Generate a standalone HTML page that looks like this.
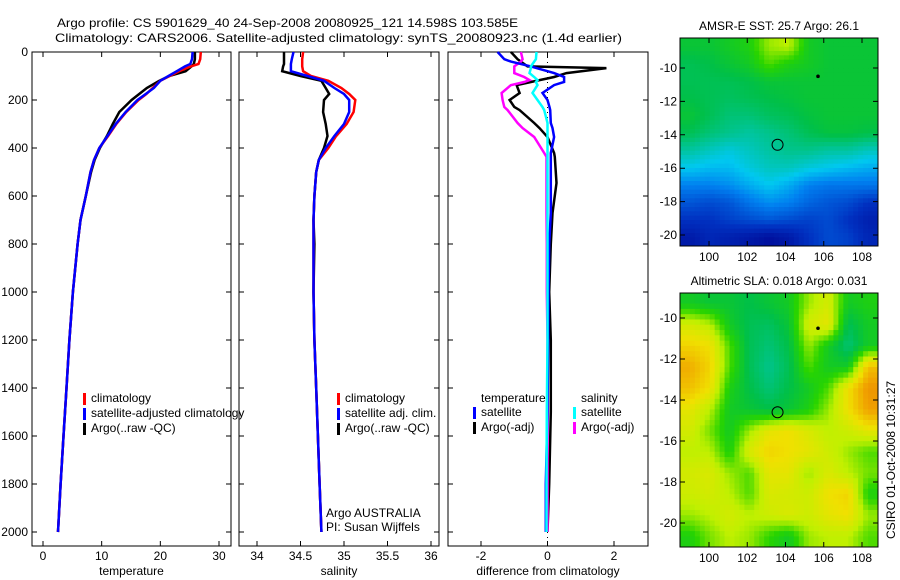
<!DOCTYPE html>
<html><head><meta charset="utf-8"><style>
html,body{margin:0;padding:0;background:#fff;}
svg{display:block;font-family:"Liberation Sans",sans-serif;}
text{font-size:12px;fill:#000;}
</style></head><body>
<svg id="fig" width="900" height="580" viewBox="0 0 900 580">
<text x="57" y="27" font-size="13.5" textLength="461" lengthAdjust="spacingAndGlyphs">Argo profile: CS 5901629_40 24-Sep-2008 20080925_121 14.598S 103.585E</text>
<text x="55" y="42" font-size="14" textLength="567" lengthAdjust="spacingAndGlyphs">Climatology: CARS2006. Satellite-adjusted climatology: synTS_20080923.nc (1.4d earlier)</text>
<g id="m1"></g>
<g id="m2"></g>
<g id="g1"></g>
<g id="g2"></g>
<g id="g3"></g>
<text transform="translate(895,460) rotate(-90)" text-anchor="middle">CSIRO 01-Oct-2008 10:31:27</text>
</svg>
<script>
// ---- profile data ----
const pres = [0,30,50,60,80,100,120,150,175,200,250,300,350,400,450,500,600,700,800,1000,1200,1400,1600,1800,2000];
const tempClim = [26.9,26.8,26.5,25.2,23.2,21.6,20.0,18.7,17.6,16.3,14.2,12.5,11.1,9.6,8.7,8.1,7.3,6.4,5.9,5.1,4.5,4.0,3.5,3.0,2.55];
const tempSat  = [25.5,25.4,25.1,24.2,22.8,21.4,20.0,18.9,17.5,16.1,14.1,12.4,11.0,9.6,8.7,8.1,7.3,6.4,5.9,5.1,4.5,4.0,3.5,3.0,2.55];
const tempArgo = [25.9,25.9,25.7,25.3,24.3,21.5,19.8,17.7,16.4,15.1,13.0,11.9,10.9,9.7,8.8,8.2,7.3,6.4,5.9,5.1,4.5,4.0,3.5,3.0,2.55];
const salClim = [34.53,34.52,34.52,34.52,34.53,34.62,34.82,34.97,35.06,35.13,35.11,35.03,34.91,34.82,34.71,34.68,34.66,34.65,34.65,34.65,34.66,34.68,34.70,34.72,34.74];
const salSat  = [34.42,34.40,34.39,34.39,34.39,34.58,34.77,34.89,35.00,35.06,35.06,35.00,34.89,34.79,34.71,34.68,34.66,34.65,34.65,34.65,34.66,34.68,34.70,34.72,34.74];
const salArgo = [34.31,34.31,34.31,34.30,34.29,34.50,34.74,34.79,34.83,34.77,34.76,34.79,34.81,34.77,34.71,34.68,34.66,34.65,34.66,34.65,34.66,34.68,34.70,34.72,34.74];
const diffPres = [0,30,40,60,67,88,104,117,125,138,171,200,229,242,296,317,354,421,437,546,671,800,1000,1200,1500,1800,2000];
const dTempSat  = [-1.5,-1.3,-1.1,-0.5,-0.33,0.2,0.5,0.5,0.5,0.2,-0.15,0.0,0.06,0.08,0.1,0.15,0.2,0.1,0.1,0.1,0.1,0.05,0.03,0.02,0.0,-0.05,-0.05];
const dTempArgo = [-1.1,-0.9,-0.8,-0.6,1.77,0.57,0.2,-0.24,-0.5,-0.93,-0.84,-1.14,-1.0,-0.84,-0.4,-0.24,0.0,0.2,0.22,0.27,0.15,0.1,0.05,0.1,0.1,0.05,0.0];
const dSalSat   = [-0.33,-0.35,-0.4,-0.5,-0.5,-0.54,-0.4,-0.3,-0.35,-0.3,-0.45,-0.3,-0.15,-0.1,0.0,0.0,0.0,0.0,0.0,0.0,0.0,0.0,0.0,0.0,-0.02,-0.03,-0.03];
const dSalArgo  = [-0.8,-0.75,-0.8,-1.0,-1.0,-1.0,-0.7,-0.54,-0.7,-1.1,-1.38,-1.35,-1.3,-1.2,-0.9,-0.75,-0.4,-0.1,-0.03,-0.03,-0.03,-0.02,-0.02,0.0,0.0,0.0,0.0];
const tempTicks = [0,10,20,30];
const salTicks = [34,34.5,35,35.5,36];
const diffTicks = [-2,0,2];
const presTicks = [0,200,400,600,800,1000,1200,1400,1600,1800,2000];
// ---- map data (rows north->south, cols west->east), colour index 0..1 ----
const sstGrid = [
[0.58,0.58,0.6,0.62,0.7,0.72,0.6,0.58,0.58,0.58],
[0.55,0.56,0.58,0.6,0.66,0.62,0.6,0.58,0.58,0.58],
[0.55,0.55,0.55,0.56,0.58,0.58,0.58,0.58,0.58,0.58],
[0.56,0.55,0.54,0.55,0.56,0.57,0.58,0.58,0.58,0.58],
[0.58,0.55,0.52,0.52,0.54,0.55,0.57,0.58,0.58,0.58],
[0.55,0.52,0.5,0.48,0.5,0.52,0.55,0.57,0.57,0.56],
[0.48,0.45,0.42,0.45,0.48,0.5,0.5,0.48,0.48,0.45],
[0.4,0.38,0.38,0.42,0.45,0.45,0.42,0.4,0.38,0.36],
[0.3,0.3,0.32,0.36,0.4,0.36,0.3,0.28,0.28,0.28],
[0.22,0.2,0.22,0.28,0.32,0.3,0.25,0.22,0.2,0.15],
[0.15,0.15,0.18,0.2,0.22,0.2,0.18,0.2,0.15,0.1],
[0.08,0.12,0.1,0.08,0.05,0.08,0.15,0.2,0.18,0.12]];
const slaGrid = [
[0.6,0.58,0.58,0.56,0.58,0.6,0.7,0.75,0.6,0.62],
[0.75,0.72,0.6,0.55,0.54,0.58,0.75,0.78,0.55,0.6],
[0.82,0.8,0.66,0.55,0.52,0.56,0.7,0.6,0.52,0.6],
[0.88,0.82,0.66,0.55,0.5,0.55,0.66,0.6,0.6,0.85],
[0.85,0.8,0.62,0.56,0.52,0.56,0.6,0.66,0.8,0.92],
[0.78,0.72,0.6,0.58,0.56,0.58,0.62,0.7,0.8,0.9],
[0.75,0.68,0.6,0.7,0.78,0.8,0.76,0.72,0.74,0.78],
[0.72,0.72,0.62,0.76,0.82,0.8,0.78,0.74,0.7,0.66],
[0.75,0.76,0.7,0.66,0.78,0.78,0.7,0.76,0.72,0.68],
[0.74,0.75,0.72,0.66,0.76,0.75,0.74,0.8,0.82,0.62],
[0.7,0.72,0.75,0.72,0.74,0.76,0.74,0.78,0.8,0.7],
[0.62,0.68,0.72,0.7,0.64,0.6,0.7,0.72,0.72,0.66]];
const lonTicks = [100,102,104,106,108];
const latTicks = [-10,-12,-14,-16,-18,-20];
const argoPos = [103.585,-14.598];
const otherPos = [105.7,-10.5];

const NS='http://www.w3.org/2000/svg';
function mk(parent,tag,attrs){const e=document.createElementNS(NS,tag);for(const k in attrs)e.setAttribute(k,attrs[k]);parent.appendChild(e);return e;}
const Y0=52,Y1=546,PMAX=(Y1-Y0)/0.24;
function yP(p){return Y0+p*(Y1-Y0)/PMAX;}
function xScale(v,pxA,vA,pxB,vB){return pxA+(v-vA)*(pxB-pxA)/(vB-vA);}

function panel(g,x0,x1,xf,ticks,fmt,label,leftLabels){
  const box=mk(g,'rect',{x:x0,y:Y0,width:x1-x0,height:Y1-Y0,fill:'none',stroke:'#000','stroke-width':1});
  
  
  presTicks.forEach(p=>{const y=yP(p);
    const t=mk(g,'path',{d:`M${x0} ${y}h5M${x1} ${y}h-5`,stroke:'#000'});
    
    
    if(leftLabels){const l=mk(g,'text',{x:x0-4,y:y+4,'text-anchor':'end'});l.textContent=p;
      
      }
  });
  ticks.forEach((v,i)=>{const x=xf(v);
    const t=mk(g,'path',{d:`M${x} ${Y0}v5M${x} ${Y1}v-5`,stroke:'#000'});
    
    
    const l=mk(g,'text',{x:x,y:560,'text-anchor':'middle'});l.textContent=fmt[i];
    
    
  });
  const xl=mk(g,'text',{x:(x0+x1)/2,y:575,'text-anchor':'middle'});xl.textContent=label;
  
  
}
function series(g,vals,ps,xf,color,name,w){
  const d=vals.map((v,i)=>(i?'L':'M')+xf(v).toFixed(1)+' '+yP(ps[i]).toFixed(1)).join('');
  const e=mk(g,'path',{d:d,fill:'none',stroke:color,'stroke-width':w||2.5});
  
  
}
function legend(g,x,y,items){
  items.forEach((it,i)=>{
    const m=mk(g,'rect',{x:x,y:y+i*15-9,width:3,height:12,fill:it[1]});
    
    
    const t=mk(g,'text',{x:x+8,y:y+i*15});t.textContent=it[0];
    
    
  });
}
// panel 1
const g1=document.getElementById('g1');
const fx1=v=>xScale(v,43,0,219,30);
panel(g1,32,231,fx1,tempTicks,['0','10','20','30'],'temperature',true);
series(g1,tempArgo,pres,fx1,'#000','argo-temperature-line');
series(g1,tempClim,pres,fx1,'#f00','climatology-temperature-line');
series(g1,tempSat,pres,fx1,'#00f','satellite-temperature-line');
legend(g1,83,402,[['climatology','#f00'],['satellite-adjusted climatology','#00f'],['Argo(..raw -QC)','#000']]);
// panel 2
const g2=document.getElementById('g2');
const fx2=v=>xScale(v,257,34,431,36);
panel(g2,239,439,fx2,salTicks,['34','34.5','35','35.5','36'],'salinity',false);
series(g2,salArgo,pres,fx2,'#000','argo-salinity-line');
series(g2,salClim,pres,fx2,'#f00','climatology-salinity-line');
series(g2,salSat,pres,fx2,'#00f','satellite-salinity-line');
legend(g2,337,402,[['climatology','#f00'],['satellite adj. clim.','#00f'],['Argo(..raw -QC)','#000']]);
const a1=mk(g2,'text',{x:326,y:517});a1.textContent='Argo AUSTRALIA';


const a2=mk(g2,'text',{x:326,y:531});a2.textContent='PI: Susan Wijffels';


// panel 3
const g3=document.getElementById('g3');
const fx3=v=>xScale(v,481,-2,614,2);
panel(g3,448,648,fx3,diffTicks,['-2','0','2'],'difference from climatology',false);
const zl=mk(g3,'line',{x1:fx3(0),y1:Y0,x2:fx3(0),y2:Y1,stroke:'#000','stroke-dasharray':'1 4'});


series(g3,dTempArgo,diffPres,fx3,'#000','argo-temperature-diff-line');
series(g3,dSalArgo,diffPres,fx3,'#f0f','argo-salinity-diff-line');
series(g3,dTempSat,diffPres,fx3,'#00f','satellite-temperature-diff-line');
series(g3,dSalSat,diffPres,fx3,'#0ff','satellite-salinity-diff-line');
const lt=mk(g3,'text',{x:481,y:402});lt.textContent='temperature';


const ls=mk(g3,'text',{x:581,y:402});ls.textContent='salinity';


legend(g3,473,416,[['satellite','#00f'],['Argo(-adj)','#000']]);
legend(g3,573,416,[['satellite','#0ff'],['Argo(-adj)','#f0f']]);

// maps
const stops=[[0,[0,0,140]],[0.15,[0,48,192]],[0.3,[0,128,240]],[0.4,[0,200,240]],[0.5,[0,196,140]],[0.56,[0,192,72]],[0.64,[40,212,0]],[0.72,[192,240,0]],[0.8,[240,224,0]],[0.9,[240,160,0]],[1,[224,112,0]]];
function cmap(v){for(let i=1;i<stops.length;i++){if(v<=stops[i][0]){const a=stops[i-1],b=stops[i],t=(v-a[0])/(b[0]-a[0]);
  return 'rgb('+a[1].map((c,k)=>Math.round(c+t*(b[1][k]-c))).join(',')+')';}}return 'rgb(224,112,0)';}
function sample(grid,fr,fc){ // bilinear lookup at fractional cell-centre coords
  const nr=grid.length,nc=grid[0].length;
  const r=Math.min(Math.max(fr,0),nr-1),c=Math.min(Math.max(fc,0),nc-1);
  const r0=Math.floor(r),c0=Math.floor(c),r1=Math.min(r0+1,nr-1),c1=Math.min(c0+1,nc-1);
  const tr=r-r0,tc=c-c0;
  return (grid[r0][c0]*(1-tc)+grid[r0][c1]*tc)*(1-tr)+(grid[r1][c0]*(1-tc)+grid[r1][c1]*tc)*tr;
}
function map(id,grid,bx0,bx1,by0,by1,latAtA,yA,pxPerDeg,title){
  const g=document.getElementById(id);
  const fx=lon=>xScale(lon,709,100,862,108);
  const fy=lat=>yA+(latAtA-lat)*pxPerDeg;
  const nr=grid.length,nc=grid[0].length,S=4;
  const cw=(bx1-bx0)/(nc*S),ch=(by1-by0)/(nr*S);
  for(let r=0;r<nr*S;r++)for(let c=0;c<nc*S;c++){
    const v=sample(grid,(r+0.5)/S-0.5,(c+0.5)/S-0.5);
    const cell=mk(g,'rect',{x:(bx0+c*cw).toFixed(2),y:(by0+r*ch).toFixed(2),width:(cw+0.5).toFixed(2),height:(ch+0.5).toFixed(2),fill:cmap(v)});
    
    
  }
  const f=mk(g,'rect',{x:bx0,y:by0,width:bx1-bx0,height:by1-by0,fill:'none',stroke:'#000'});
  
  
  lonTicks.forEach(l=>{const x=fx(l);
    const t=mk(g,'path',{d:`M${x} ${by1}v-5M${x} ${by0}v5`,stroke:'#000'});
    
    
    const tl=mk(g,'text',{x:x,y:by1+15,'text-anchor':'middle'});tl.textContent=l;
    
    });
  latTicks.forEach(l=>{const y=fy(l);
    const t=mk(g,'path',{d:`M${bx0} ${y}h5M${bx1} ${y}h-5`,stroke:'#000'});
    
    
    const tl=mk(g,'text',{x:bx0-3,y:y+4,'text-anchor':'end'});tl.textContent=l;
    
    });
  const c=mk(g,'circle',{cx:fx(argoPos[0]),cy:fy(argoPos[1]),r:5.5,fill:'none',stroke:'#000'});
  
  
  const d=mk(g,'circle',{cx:fx(otherPos[0]),cy:fy(otherPos[1]),r:1.8,fill:'#000'});
  
  
  const t=mk(g,'text',{x:(bx0+bx1)/2,y:by0-8,'text-anchor':'middle'});t.textContent=title;
  
  
}
map('m1',sstGrid,680,878,38,246,-10,68,16.7,'AMSR-E SST: 25.7 Argo: 26.1');
map('m2',slaGrid,680,878,293,547,-10,318,20.5,'Altimetric SLA: 0.018 Argo: 0.031');
</script>
</body></html>
